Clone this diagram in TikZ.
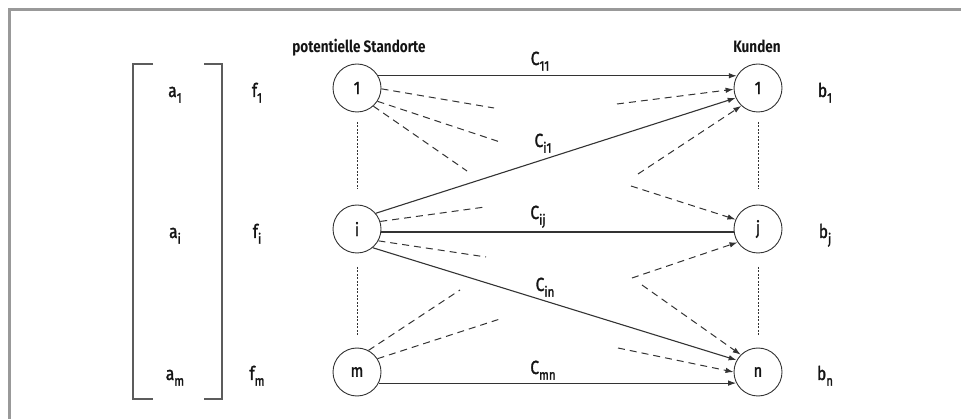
\documentclass[tikz,border=0pt]{standalone}
\usepackage{fontspec}
\setmainfont[FakeStretch=0.82]{Fira Sans}
\newfontfamily\lblfont[FakeStretch=0.82,FakeBold=1.6]{Fira Sans}
\usetikzlibrary{arrows.meta}

\definecolor{linec}{gray}{0.2}
\definecolor{framec}{gray}{0.6}
\definecolor{textc}{gray}{0.08}

% symbol with a lowered index
\newcommand\ix[2]{#1\raisebox{-0.3em}{\fontsize{14}{14}\selectfont #2}}

\begin{document}
\begin{tikzpicture}[x=1pt,y=-1pt,
  site/.style={circle,draw=linec,line width=0.9pt,minimum size=48pt,inner sep=0pt,
               text=textc,font=\lblfont\fontsize{18}{18}\selectfont},
  lbl/.style={inner sep=0pt,anchor=base,text=textc,font=\lblfont\fontsize{19}{19}\selectfont},
  head/.style={lbl,font=\fontsize{16.5}{16.5}\selectfont\bfseries},
  tip/.style={-{Latex[length=8pt,width=5.5pt]}},
  cost/.style={line width=1.1pt,draw=linec},
  stub/.style={line width=1pt,draw=linec,dash pattern=on 7pt off 5pt},
  dotline/.style={line width=0.9pt,draw=linec,dash pattern=on 2pt off 1.5pt}]

\useasboundingbox (0,0) rectangle (961,419);

% outer frame
\draw[framec,line width=3pt] (9,419) -- (9,10) -- (961,10);

% bracket round the capacities
\draw[linec!80,line width=1.4pt] (153,64) -- (133,64) -- (133,399) -- (153,399);
\draw[linec!80,line width=1.4pt] (204,64) -- (222,64) -- (222,399) -- (204,399);

% headings
\node[head] (hs) at (359,53) {potentielle Standorte};
\node[head] (hk) at (757,53) {Kunden};

% locations
\node[site] (s1) at (357,88)  {1};
\node[site] (si) at (357,229) {i};
\node[site] (sm) at (357,372) {m};

% customers
\node[site] (k1) at (758,88)  {1};
\node[site] (kj) at (758,229) {j};
\node[site] (kn) at (758,372) {n};

% capacities and fixed costs
\node[lbl] (a1) at (175,97)  {\ix{a}{1}};
\node[lbl] (ai) at (175,238) {\ix{a}{i}};
\node[lbl] (am) at (175,380) {\ix{a}{m}};
\node[lbl] (f1) at (257,97)  {\ix{f}{1}};
\node[lbl] (fi) at (257,238) {\ix{f}{i}};
\node[lbl] (fm) at (257,380) {\ix{f}{m}};

% demands
\node[lbl] (b1) at (825,97)  {\ix{b}{1}};
\node[lbl] (bj) at (825,238) {\ix{b}{j}};
\node[lbl] (bn) at (825,380) {\ix{b}{n}};

% omitted nodes in between
\coordinate (d1a) at (357,122); \coordinate (d1b) at (357,189);
\coordinate (d2a) at (357,267); \coordinate (d2b) at (357,336);
\coordinate (d3a) at (758,122); \coordinate (d3b) at (758,189);
\coordinate (d4a) at (758,267); \coordinate (d4b) at (758,336);
\draw[dotline] (d1a) -- (d1b);
\draw[dotline] (d2a) -- (d2b);
\draw[dotline] (d3a) -- (d3b);
\draw[dotline] (d4a) -- (d4b);

% transport cost connections
\draw[cost,tip] (s1.30)  -- (k1.150);
\draw[cost,tip] (si.40)  -- (k1.204);
\draw[cost]     (si.-7)  -- (kj.187);
\draw[cost,tip] (si.-50) -- (kn.151);
\draw[cost,tip] (sm.-27) -- (kn.207);

\node[lbl] (c11) at (540,65)  {\ix{C}{11}};
\node[lbl] (ci1) at (543,147) {\ix{C}{i1}};
\node[lbl] (cij) at (538,219) {\ix{C}{ij}};
\node[lbl] (cin) at (545,291) {\ix{C}{in}};
\node[lbl] (cmn) at (543,374) {\ix{C}{mn}};

% further links leaving the locations
\coordinate (e11) at (494,108);
\coordinate (e12) at (500,142);
\coordinate (e13) at (467,171);
\coordinate (ei1) at (485,207);
\coordinate (ei2) at (486,257);
\coordinate (em1) at (460,290);
\coordinate (em2) at (503,318);
\draw[stub] (s1.-2)  -- (e11);
\draw[stub] (s1.-33) -- (e12);
\draw[stub] (s1.-48) -- (e13);
\draw[stub] (si.18)  -- (ei1);
\draw[stub] (si.-29) -- (ei2);
\draw[stub] (sm.62)  -- (em1);
\draw[stub] (sm.33)  -- (em2);

% further links reaching the customers
\coordinate (g11) at (617,104);
\coordinate (g12) at (638,174);
\coordinate (gj1) at (631,186);
\coordinate (gj2) at (632,278);
\coordinate (gn1) at (642,285);
\coordinate (gn2) at (618,348);
\draw[stub,tip] (g11) -- (k1.183);
\draw[stub,tip] (g12) -- (k1.227);
\draw[stub,tip] (gj1) -- (kj.157);
\draw[stub,tip] (gj2) -- (kj.213);
\draw[stub,tip] (gn1) -- (kn.135);
\draw[stub,tip] (gn2) -- (kn.180);
\end{tikzpicture}
\end{document}
